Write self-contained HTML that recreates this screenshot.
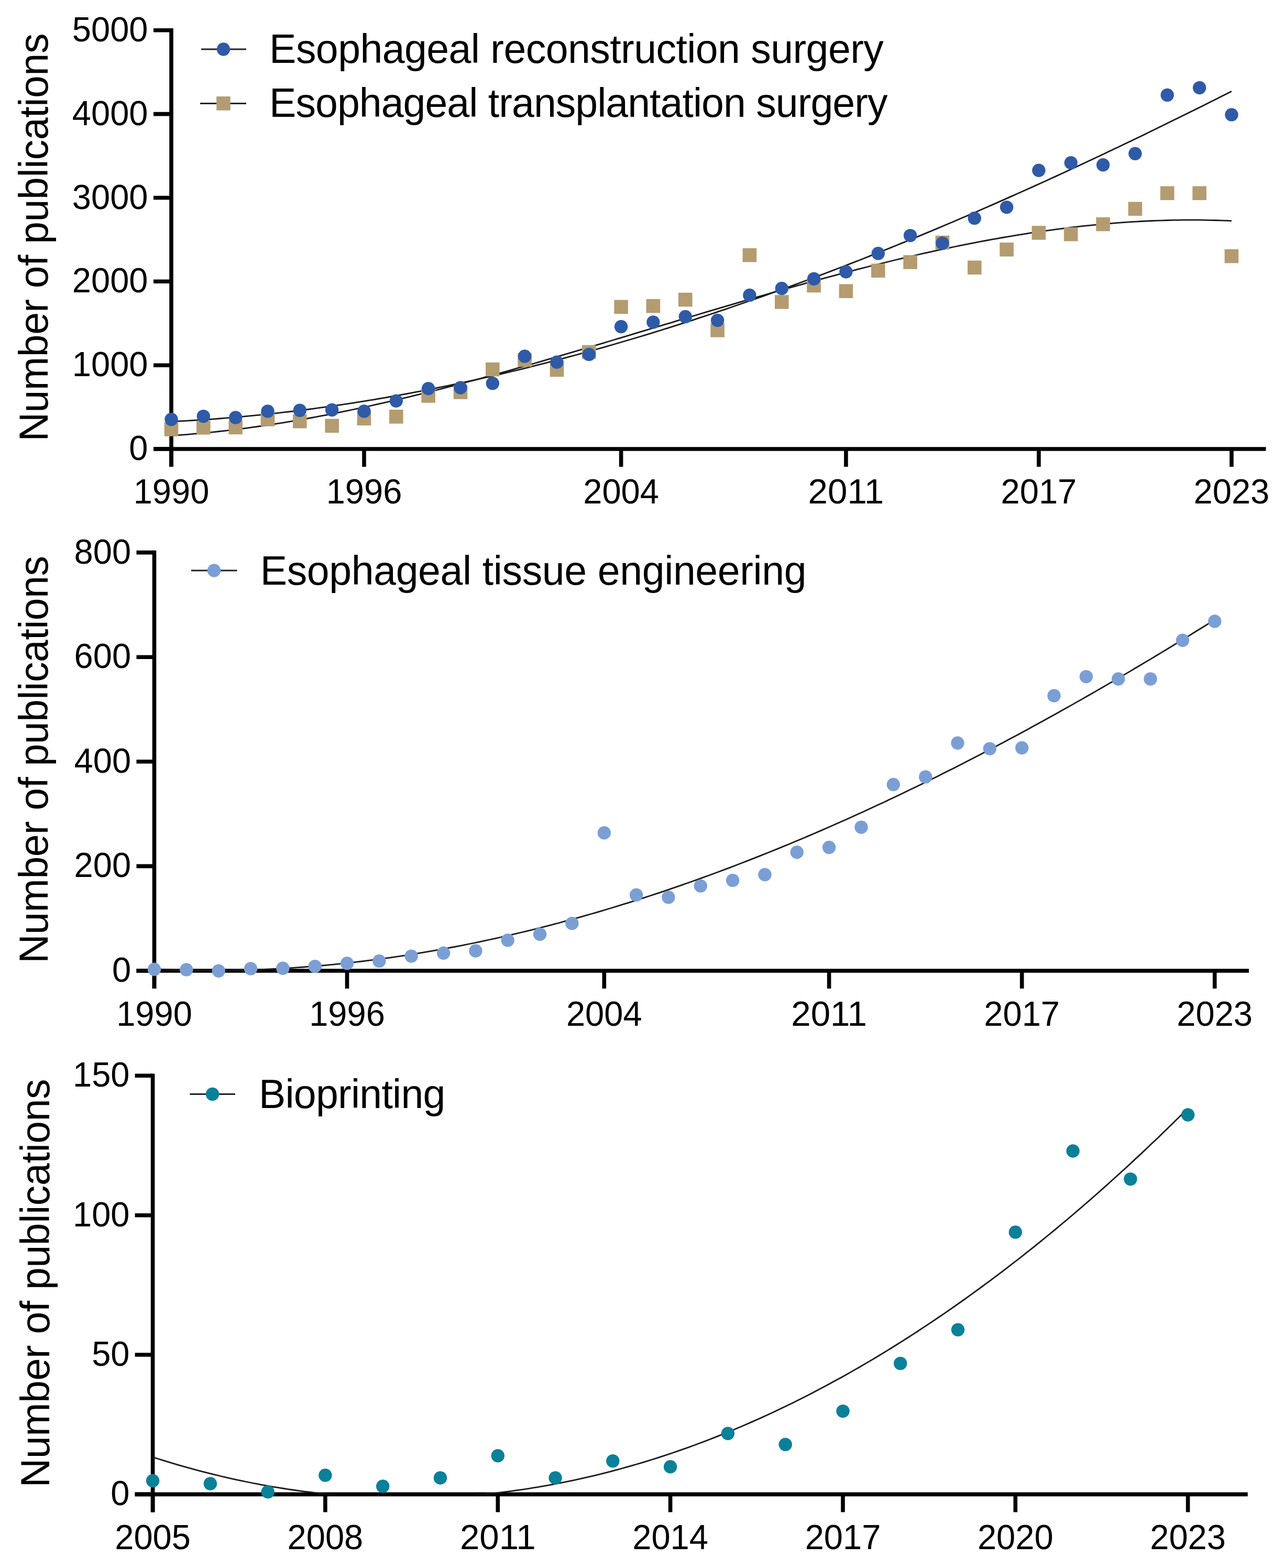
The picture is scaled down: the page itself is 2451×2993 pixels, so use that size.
<!DOCTYPE html>
<html><head><meta charset="utf-8"><title>Publication trends</title>
<style>
html,body{margin:0;padding:0;background:#fff;}
body{width:2451px;height:2993px;overflow:hidden;}
svg{display:block;}
.t{font-family:'Liberation Sans', Arial, Helvetica, sans-serif;font-size:67.4px;fill:#000;}
.ti{font-family:'Liberation Sans', Arial, Helvetica, sans-serif;font-size:77px;fill:#000;}
</style></head>
<body>
<svg width="2451" height="2993" viewBox="0 0 2451 2993">
<defs>
<clipPath id="cl1"><rect x="0" y="0" width="2451" height="857.0"/></clipPath>
<clipPath id="cl2"><rect x="0" y="0" width="2451" height="1853.0"/></clipPath>
<clipPath id="cl3"><rect x="0" y="0" width="2451" height="2852.4"/></clipPath>
</defs>
<rect width="2451" height="2993" fill="#fff"/>
<line x1="327" y1="54.0" x2="327" y2="891.0" stroke="#000" stroke-width="7.6"/>
<line x1="293.0" y1="857.0" x2="2416.5" y2="857.0" stroke="#000" stroke-width="7.6"/>
<line x1="293.0" y1="857.0" x2="327" y2="857.0" stroke="#000" stroke-width="7.6"/>
<text x="282.5" y="878.0" text-anchor="end" class="t" textLength="36.2" lengthAdjust="spacingAndGlyphs">0</text>
<line x1="293.0" y1="697.2" x2="327" y2="697.2" stroke="#000" stroke-width="7.6"/>
<text x="282.5" y="718.2" text-anchor="end" class="t" textLength="144.7" lengthAdjust="spacingAndGlyphs">1000</text>
<line x1="293.0" y1="537.3" x2="327" y2="537.3" stroke="#000" stroke-width="7.6"/>
<text x="282.5" y="558.3" text-anchor="end" class="t" textLength="144.7" lengthAdjust="spacingAndGlyphs">2000</text>
<line x1="293.0" y1="377.5" x2="327" y2="377.5" stroke="#000" stroke-width="7.6"/>
<text x="282.5" y="398.5" text-anchor="end" class="t" textLength="144.7" lengthAdjust="spacingAndGlyphs">3000</text>
<line x1="293.0" y1="217.6" x2="327" y2="217.6" stroke="#000" stroke-width="7.6"/>
<text x="282.5" y="238.6" text-anchor="end" class="t" textLength="144.7" lengthAdjust="spacingAndGlyphs">4000</text>
<line x1="293.0" y1="57.8" x2="327" y2="57.8" stroke="#000" stroke-width="7.6"/>
<text x="282.5" y="78.8" text-anchor="end" class="t" textLength="144.7" lengthAdjust="spacingAndGlyphs">5000</text>
<line x1="327.0" y1="857.0" x2="327.0" y2="891.0" stroke="#000" stroke-width="7.6"/>
<text x="327.0" y="960.5" text-anchor="middle" class="t" textLength="144.7" lengthAdjust="spacingAndGlyphs">1990</text>
<line x1="695.0" y1="857.0" x2="695.0" y2="891.0" stroke="#000" stroke-width="7.6"/>
<text x="695.0" y="960.5" text-anchor="middle" class="t" textLength="144.7" lengthAdjust="spacingAndGlyphs">1996</text>
<line x1="1185.6" y1="857.0" x2="1185.6" y2="891.0" stroke="#000" stroke-width="7.6"/>
<text x="1185.6" y="960.5" text-anchor="middle" class="t" textLength="144.7" lengthAdjust="spacingAndGlyphs">2004</text>
<line x1="1614.9" y1="857.0" x2="1614.9" y2="891.0" stroke="#000" stroke-width="7.6"/>
<text x="1614.9" y="960.5" text-anchor="middle" class="t" textLength="144.7" lengthAdjust="spacingAndGlyphs">2011</text>
<line x1="1982.9" y1="857.0" x2="1982.9" y2="891.0" stroke="#000" stroke-width="7.6"/>
<text x="1982.9" y="960.5" text-anchor="middle" class="t" textLength="144.7" lengthAdjust="spacingAndGlyphs">2017</text>
<line x1="2350.9" y1="857.0" x2="2350.9" y2="891.0" stroke="#000" stroke-width="7.6"/>
<text x="2350.9" y="960.5" text-anchor="middle" class="t" textLength="144.7" lengthAdjust="spacingAndGlyphs">2023</text>
<text transform="translate(91.0,842.6) rotate(-90)" class="ti" textLength="779.0" lengthAdjust="spacing">Number of publications</text>
<path d="M327.0,831.5 L337.2,830.8 L347.3,830.1 L357.5,829.3 L367.7,828.4 L377.9,827.5 L388.0,826.6 L398.2,825.6 L408.4,824.6 L418.5,823.5 L428.7,822.3 L438.9,821.1 L449.0,819.9 L459.2,818.6 L469.4,817.3 L479.6,815.9 L489.7,814.5 L499.9,813.0 L510.1,811.5 L520.2,810.0 L530.4,808.4 L540.6,806.8 L550.7,805.1 L560.9,803.4 L571.1,801.6 L581.3,799.8 L591.4,798.0 L601.6,796.1 L611.8,794.2 L621.9,792.3 L632.1,790.3 L642.3,788.3 L652.4,786.2 L662.6,784.1 L672.8,782.0 L683.0,779.9 L693.1,777.7 L703.3,775.5 L713.5,773.2 L723.6,770.9 L733.8,768.6 L744.0,766.3 L754.2,763.9 L764.3,761.5 L774.5,759.1 L784.7,756.6 L794.8,754.1 L805.0,751.6 L815.2,749.1 L825.3,746.5 L835.5,744.0 L845.7,741.4 L855.9,738.7 L866.0,736.1 L876.2,733.4 L886.4,730.7 L896.5,728.0 L906.7,725.3 L916.9,722.5 L927.0,719.7 L937.2,716.9 L947.4,714.1 L957.6,711.3 L967.7,708.5 L977.9,705.6 L988.1,702.7 L998.2,699.8 L1008.4,696.9 L1018.6,694.0 L1028.8,691.1 L1038.9,688.1 L1049.1,685.2 L1059.3,682.2 L1069.4,679.2 L1079.6,676.2 L1089.8,673.2 L1099.9,670.2 L1110.1,667.2 L1120.3,664.2 L1130.5,661.2 L1140.6,658.1 L1150.8,655.1 L1161.0,652.0 L1171.1,649.0 L1181.3,645.9 L1191.5,642.9 L1201.6,639.8 L1211.8,636.7 L1222.0,633.7 L1232.2,630.6 L1242.3,627.5 L1252.5,624.5 L1262.7,621.4 L1272.8,618.3 L1283.0,615.3 L1293.2,612.2 L1303.3,609.1 L1313.5,606.1 L1323.7,603.0 L1333.9,600.0 L1344.0,596.9 L1354.2,593.9 L1364.4,590.9 L1374.5,587.8 L1384.7,584.8 L1394.9,581.8 L1405.1,578.8 L1415.2,575.8 L1425.4,572.9 L1435.6,569.9 L1445.7,566.9 L1455.9,564.0 L1466.1,561.1 L1476.2,558.1 L1486.4,555.2 L1496.6,552.4 L1506.8,549.5 L1516.9,546.6 L1527.1,543.8 L1537.3,540.9 L1547.4,538.1 L1557.6,535.3 L1567.8,532.6 L1577.9,529.8 L1588.1,527.1 L1598.3,524.4 L1608.5,521.7 L1618.6,519.0 L1628.8,516.4 L1639.0,513.7 L1649.1,511.1 L1659.3,508.5 L1669.5,506.0 L1679.7,503.5 L1689.8,501.0 L1700.0,498.5 L1710.2,496.0 L1720.3,493.6 L1730.5,491.2 L1740.7,488.8 L1750.8,486.5 L1761.0,484.2 L1771.2,481.9 L1781.4,479.7 L1791.5,477.4 L1801.7,475.3 L1811.9,473.1 L1822.0,471.0 L1832.2,468.9 L1842.4,466.9 L1852.5,464.8 L1862.7,462.9 L1872.9,460.9 L1883.1,459.0 L1893.2,457.2 L1903.4,455.3 L1913.6,453.5 L1923.7,451.8 L1933.9,450.1 L1944.1,448.4 L1954.2,446.8 L1964.4,445.2 L1974.6,443.6 L1984.8,442.1 L1994.9,440.7 L2005.1,439.3 L2015.3,437.9 L2025.4,436.6 L2035.6,435.3 L2045.8,434.0 L2056.0,432.9 L2066.1,431.7 L2076.3,430.6 L2086.5,429.6 L2096.6,428.6 L2106.8,427.7 L2117.0,426.8 L2127.1,425.9 L2137.3,425.1 L2147.5,424.4 L2157.7,423.7 L2167.8,423.1 L2178.0,422.5 L2188.2,422.0 L2198.3,421.5 L2208.5,421.1 L2218.7,420.8 L2228.8,420.5 L2239.0,420.2 L2249.2,420.1 L2259.4,419.9 L2269.5,419.9 L2279.7,419.9 L2289.9,419.9 L2300.0,420.1 L2310.2,420.3 L2320.4,420.5 L2330.5,420.8 L2340.7,421.2 L2350.9,421.6" fill="none" stroke="#1a1a1a" stroke-width="2.8" clip-path="url(#cl1)"/>
<path d="M327.0,804.7 L337.2,804.2 L347.3,803.7 L357.5,803.1 L367.7,802.5 L377.9,801.9 L388.0,801.2 L398.2,800.5 L408.4,799.8 L418.5,799.0 L428.7,798.2 L438.9,797.4 L449.0,796.5 L459.2,795.6 L469.4,794.7 L479.6,793.7 L489.7,792.7 L499.9,791.7 L510.1,790.6 L520.2,789.5 L530.4,788.4 L540.6,787.2 L550.7,786.0 L560.9,784.8 L571.1,783.6 L581.3,782.3 L591.4,781.0 L601.6,779.6 L611.8,778.2 L621.9,776.8 L632.1,775.4 L642.3,773.9 L652.4,772.4 L662.6,770.9 L672.8,769.3 L683.0,767.7 L693.1,766.1 L703.3,764.4 L713.5,762.8 L723.6,761.0 L733.8,759.3 L744.0,757.5 L754.2,755.7 L764.3,753.9 L774.5,752.0 L784.7,750.1 L794.8,748.2 L805.0,746.3 L815.2,744.3 L825.3,742.3 L835.5,740.2 L845.7,738.2 L855.9,736.1 L866.0,733.9 L876.2,731.8 L886.4,729.6 L896.5,727.4 L906.7,725.2 L916.9,722.9 L927.0,720.6 L937.2,718.3 L947.4,715.9 L957.6,713.6 L967.7,711.2 L977.9,708.7 L988.1,706.3 L998.2,703.8 L1008.4,701.3 L1018.6,698.7 L1028.8,696.2 L1038.9,693.6 L1049.1,690.9 L1059.3,688.3 L1069.4,685.6 L1079.6,682.9 L1089.8,680.2 L1099.9,677.5 L1110.1,674.7 L1120.3,671.9 L1130.5,669.0 L1140.6,666.2 L1150.8,663.3 L1161.0,660.4 L1171.1,657.5 L1181.3,654.5 L1191.5,651.5 L1201.6,648.5 L1211.8,645.5 L1222.0,642.5 L1232.2,639.4 L1242.3,636.3 L1252.5,633.1 L1262.7,630.0 L1272.8,626.8 L1283.0,623.6 L1293.2,620.4 L1303.3,617.1 L1313.5,613.9 L1323.7,610.6 L1333.9,607.2 L1344.0,603.9 L1354.2,600.5 L1364.4,597.1 L1374.5,593.7 L1384.7,590.3 L1394.9,586.8 L1405.1,583.3 L1415.2,579.8 L1425.4,576.3 L1435.6,572.8 L1445.7,569.2 L1455.9,565.6 L1466.1,562.0 L1476.2,558.3 L1486.4,554.7 L1496.6,551.0 L1506.8,547.3 L1516.9,543.6 L1527.1,539.8 L1537.3,536.0 L1547.4,532.2 L1557.6,528.4 L1567.8,524.6 L1577.9,520.7 L1588.1,516.9 L1598.3,513.0 L1608.5,509.0 L1618.6,505.1 L1628.8,501.1 L1639.0,497.2 L1649.1,493.2 L1659.3,489.1 L1669.5,485.1 L1679.7,481.0 L1689.8,477.0 L1700.0,472.9 L1710.2,468.8 L1720.3,464.6 L1730.5,460.5 L1740.7,456.3 L1750.8,452.1 L1761.0,447.9 L1771.2,443.6 L1781.4,439.4 L1791.5,435.1 L1801.7,430.8 L1811.9,426.5 L1822.0,422.2 L1832.2,417.8 L1842.4,413.5 L1852.5,409.1 L1862.7,404.7 L1872.9,400.3 L1883.1,395.8 L1893.2,391.4 L1903.4,386.9 L1913.6,382.4 L1923.7,377.9 L1933.9,373.4 L1944.1,368.8 L1954.2,364.3 L1964.4,359.7 L1974.6,355.1 L1984.8,350.5 L1994.9,345.9 L2005.1,341.2 L2015.3,336.6 L2025.4,331.9 L2035.6,327.2 L2045.8,322.5 L2056.0,317.8 L2066.1,313.0 L2076.3,308.3 L2086.5,303.5 L2096.6,298.7 L2106.8,293.9 L2117.0,289.1 L2127.1,284.3 L2137.3,279.4 L2147.5,274.5 L2157.7,269.7 L2167.8,264.8 L2178.0,259.9 L2188.2,254.9 L2198.3,250.0 L2208.5,245.1 L2218.7,240.1 L2228.8,235.1 L2239.0,230.1 L2249.2,225.1 L2259.4,220.1 L2269.5,215.1 L2279.7,210.0 L2289.9,204.9 L2300.0,199.9 L2310.2,194.8 L2320.4,189.7 L2330.5,184.6 L2340.7,179.4 L2350.9,174.3" fill="none" stroke="#1a1a1a" stroke-width="2.8" clip-path="url(#cl1)"/>
<rect x="313.7" y="806.2" width="26.6" height="26.6" fill="#B49C71"/>
<rect x="375.0" y="803.0" width="26.6" height="26.6" fill="#B49C71"/>
<rect x="436.4" y="802.5" width="26.6" height="26.6" fill="#B49C71"/>
<rect x="497.7" y="787.2" width="26.6" height="26.6" fill="#B49C71"/>
<rect x="559.0" y="790.9" width="26.6" height="26.6" fill="#B49C71"/>
<rect x="620.4" y="799.5" width="26.6" height="26.6" fill="#B49C71"/>
<rect x="681.7" y="785.5" width="26.6" height="26.6" fill="#B49C71"/>
<rect x="743.0" y="782.0" width="26.6" height="26.6" fill="#B49C71"/>
<rect x="804.3" y="742.2" width="26.6" height="26.6" fill="#B49C71"/>
<rect x="865.7" y="735.3" width="26.6" height="26.6" fill="#B49C71"/>
<rect x="927.0" y="691.8" width="26.6" height="26.6" fill="#B49C71"/>
<rect x="988.3" y="673.7" width="26.6" height="26.6" fill="#B49C71"/>
<rect x="1049.7" y="692.7" width="26.6" height="26.6" fill="#B49C71"/>
<rect x="1111.0" y="658.7" width="26.6" height="26.6" fill="#B49C71"/>
<rect x="1172.3" y="572.5" width="26.6" height="26.6" fill="#B49C71"/>
<rect x="1233.6" y="570.8" width="26.6" height="26.6" fill="#B49C71"/>
<rect x="1295.0" y="558.7" width="26.6" height="26.6" fill="#B49C71"/>
<rect x="1356.3" y="617.1" width="26.6" height="26.6" fill="#B49C71"/>
<rect x="1417.6" y="473.7" width="26.6" height="26.6" fill="#B49C71"/>
<rect x="1479.0" y="563.1" width="26.6" height="26.6" fill="#B49C71"/>
<rect x="1540.3" y="531.7" width="26.6" height="26.6" fill="#B49C71"/>
<rect x="1601.6" y="542.4" width="26.6" height="26.6" fill="#B49C71"/>
<rect x="1663.0" y="503.3" width="26.6" height="26.6" fill="#B49C71"/>
<rect x="1724.3" y="487.1" width="26.6" height="26.6" fill="#B49C71"/>
<rect x="1785.6" y="449.7" width="26.6" height="26.6" fill="#B49C71"/>
<rect x="1847.0" y="497.4" width="26.6" height="26.6" fill="#B49C71"/>
<rect x="1908.3" y="463.0" width="26.6" height="26.6" fill="#B49C71"/>
<rect x="1969.6" y="431.1" width="26.6" height="26.6" fill="#B49C71"/>
<rect x="2030.9" y="433.8" width="26.6" height="26.6" fill="#B49C71"/>
<rect x="2092.3" y="414.7" width="26.6" height="26.6" fill="#B49C71"/>
<rect x="2153.6" y="385.3" width="26.6" height="26.6" fill="#B49C71"/>
<rect x="2214.9" y="355.4" width="26.6" height="26.6" fill="#B49C71"/>
<rect x="2276.3" y="355.4" width="26.6" height="26.6" fill="#B49C71"/>
<rect x="2337.6" y="475.7" width="26.6" height="26.6" fill="#B49C71"/>
<circle cx="327.0" cy="800.5" r="12.7" fill="#2E5AA8"/>
<circle cx="388.3" cy="794.6" r="12.7" fill="#2E5AA8"/>
<circle cx="449.7" cy="797.0" r="12.7" fill="#2E5AA8"/>
<circle cx="511.0" cy="784.9" r="12.7" fill="#2E5AA8"/>
<circle cx="572.3" cy="783.2" r="12.7" fill="#2E5AA8"/>
<circle cx="633.6" cy="782.5" r="12.7" fill="#2E5AA8"/>
<circle cx="695.0" cy="784.9" r="12.7" fill="#2E5AA8"/>
<circle cx="756.3" cy="765.2" r="12.7" fill="#2E5AA8"/>
<circle cx="817.6" cy="741.7" r="12.7" fill="#2E5AA8"/>
<circle cx="879.0" cy="740.0" r="12.7" fill="#2E5AA8"/>
<circle cx="940.3" cy="731.7" r="12.7" fill="#2E5AA8"/>
<circle cx="1001.6" cy="679.9" r="12.7" fill="#2E5AA8"/>
<circle cx="1063.0" cy="691.3" r="12.7" fill="#2E5AA8"/>
<circle cx="1124.3" cy="676.4" r="12.7" fill="#2E5AA8"/>
<circle cx="1185.6" cy="623.5" r="12.7" fill="#2E5AA8"/>
<circle cx="1246.9" cy="614.9" r="12.7" fill="#2E5AA8"/>
<circle cx="1308.3" cy="604.5" r="12.7" fill="#2E5AA8"/>
<circle cx="1369.6" cy="611.4" r="12.7" fill="#2E5AA8"/>
<circle cx="1430.9" cy="563.4" r="12.7" fill="#2E5AA8"/>
<circle cx="1492.3" cy="550.5" r="12.7" fill="#2E5AA8"/>
<circle cx="1553.6" cy="532.2" r="12.7" fill="#2E5AA8"/>
<circle cx="1614.9" cy="518.7" r="12.7" fill="#2E5AA8"/>
<circle cx="1676.3" cy="483.8" r="12.7" fill="#2E5AA8"/>
<circle cx="1737.6" cy="449.6" r="12.7" fill="#2E5AA8"/>
<circle cx="1798.9" cy="464.1" r="12.7" fill="#2E5AA8"/>
<circle cx="1860.2" cy="416.4" r="12.7" fill="#2E5AA8"/>
<circle cx="1921.6" cy="395.6" r="12.7" fill="#2E5AA8"/>
<circle cx="1982.9" cy="325.2" r="12.7" fill="#2E5AA8"/>
<circle cx="2044.2" cy="310.8" r="12.7" fill="#2E5AA8"/>
<circle cx="2105.6" cy="314.7" r="12.7" fill="#2E5AA8"/>
<circle cx="2166.9" cy="293.2" r="12.7" fill="#2E5AA8"/>
<circle cx="2228.2" cy="181.4" r="12.7" fill="#2E5AA8"/>
<circle cx="2289.6" cy="167.5" r="12.7" fill="#2E5AA8"/>
<circle cx="2350.9" cy="218.9" r="12.7" fill="#2E5AA8"/>
<line x1="384" y1="94" x2="470" y2="94" stroke="#222" stroke-width="3"/>
<circle cx="426.5" cy="94.0" r="12.7" fill="#2E5AA8"/>
<line x1="382" y1="197.4" x2="470" y2="197.4" stroke="#222" stroke-width="3"/>
<rect x="413.2" y="184.1" width="26.6" height="26.6" fill="#B49C71"/>
<text x="514.1" y="119.5" class="ti" textLength="1172.7" lengthAdjust="spacing">Esophageal reconstruction surgery</text>
<text x="514.1" y="223" class="ti" textLength="1180.3" lengthAdjust="spacing">Esophageal transplantation surgery</text>
<line x1="294.5" y1="1050.8" x2="294.5" y2="1887.0" stroke="#000" stroke-width="7.6"/>
<line x1="260.5" y1="1853.0" x2="2384" y2="1853.0" stroke="#000" stroke-width="7.6"/>
<line x1="260.5" y1="1853.0" x2="294.5" y2="1853.0" stroke="#000" stroke-width="7.6"/>
<text x="250.1" y="1874.0" text-anchor="end" class="t" textLength="36.2" lengthAdjust="spacingAndGlyphs">0</text>
<line x1="260.5" y1="1653.4" x2="294.5" y2="1653.4" stroke="#000" stroke-width="7.6"/>
<text x="250.1" y="1674.4" text-anchor="end" class="t" textLength="108.5" lengthAdjust="spacingAndGlyphs">200</text>
<line x1="260.5" y1="1453.8" x2="294.5" y2="1453.8" stroke="#000" stroke-width="7.6"/>
<text x="250.1" y="1474.8" text-anchor="end" class="t" textLength="108.5" lengthAdjust="spacingAndGlyphs">400</text>
<line x1="260.5" y1="1254.2" x2="294.5" y2="1254.2" stroke="#000" stroke-width="7.6"/>
<text x="250.1" y="1275.2" text-anchor="end" class="t" textLength="108.5" lengthAdjust="spacingAndGlyphs">600</text>
<line x1="260.5" y1="1054.6" x2="294.5" y2="1054.6" stroke="#000" stroke-width="7.6"/>
<text x="250.1" y="1075.6" text-anchor="end" class="t" textLength="108.5" lengthAdjust="spacingAndGlyphs">800</text>
<line x1="294.5" y1="1853.0" x2="294.5" y2="1887.0" stroke="#000" stroke-width="7.6"/>
<text x="294.5" y="1957.5" text-anchor="middle" class="t" textLength="144.7" lengthAdjust="spacingAndGlyphs">1990</text>
<line x1="662.5" y1="1853.0" x2="662.5" y2="1887.0" stroke="#000" stroke-width="7.6"/>
<text x="662.5" y="1957.5" text-anchor="middle" class="t" textLength="144.7" lengthAdjust="spacingAndGlyphs">1996</text>
<line x1="1153.3" y1="1853.0" x2="1153.3" y2="1887.0" stroke="#000" stroke-width="7.6"/>
<text x="1153.3" y="1957.5" text-anchor="middle" class="t" textLength="144.7" lengthAdjust="spacingAndGlyphs">2004</text>
<line x1="1582.6" y1="1853.0" x2="1582.6" y2="1887.0" stroke="#000" stroke-width="7.6"/>
<text x="1582.6" y="1957.5" text-anchor="middle" class="t" textLength="144.7" lengthAdjust="spacingAndGlyphs">2011</text>
<line x1="1950.7" y1="1853.0" x2="1950.7" y2="1887.0" stroke="#000" stroke-width="7.6"/>
<text x="1950.7" y="1957.5" text-anchor="middle" class="t" textLength="144.7" lengthAdjust="spacingAndGlyphs">2017</text>
<line x1="2318.7" y1="1853.0" x2="2318.7" y2="1887.0" stroke="#000" stroke-width="7.6"/>
<text x="2318.7" y="1957.5" text-anchor="middle" class="t" textLength="144.7" lengthAdjust="spacingAndGlyphs">2023</text>
<text transform="translate(91.0,1838.8) rotate(-90)" class="ti" textLength="777.9" lengthAdjust="spacing">Number of publications</text>
<path d="M294.5,1849.6 L304.7,1850.1 L314.8,1850.5 L325.0,1850.9 L335.2,1851.3 L345.4,1851.6 L355.5,1851.9 L365.7,1852.1 L375.9,1852.2 L386.0,1852.3 L396.2,1852.4 L406.4,1852.4 L416.6,1852.4 L426.7,1852.4 L436.9,1852.3 L447.1,1852.1 L457.3,1851.9 L467.4,1851.6 L477.6,1851.4 L487.8,1851.0 L497.9,1850.6 L508.1,1850.2 L518.3,1849.7 L528.5,1849.2 L538.6,1848.7 L548.8,1848.1 L559.0,1847.4 L569.1,1846.7 L579.3,1846.0 L589.5,1845.2 L599.7,1844.4 L609.8,1843.5 L620.0,1842.6 L630.2,1841.6 L640.3,1840.6 L650.5,1839.6 L660.7,1838.5 L670.9,1837.4 L681.0,1836.2 L691.2,1835.0 L701.4,1833.7 L711.6,1832.4 L721.7,1831.1 L731.9,1829.7 L742.1,1828.3 L752.2,1826.8 L762.4,1825.3 L772.6,1823.8 L782.8,1822.2 L792.9,1820.6 L803.1,1818.9 L813.3,1817.2 L823.4,1815.4 L833.6,1813.6 L843.8,1811.8 L854.0,1809.9 L864.1,1808.0 L874.3,1806.1 L884.5,1804.1 L894.6,1802.0 L904.8,1800.0 L915.0,1797.8 L925.2,1795.7 L935.3,1793.5 L945.5,1791.3 L955.7,1789.0 L965.8,1786.7 L976.0,1784.3 L986.2,1781.9 L996.4,1779.5 L1006.5,1777.1 L1016.7,1774.6 L1026.9,1772.0 L1037.1,1769.4 L1047.2,1766.8 L1057.4,1764.2 L1067.6,1761.5 L1077.7,1758.7 L1087.9,1756.0 L1098.1,1753.2 L1108.3,1750.3 L1118.4,1747.4 L1128.6,1744.5 L1138.8,1741.6 L1148.9,1738.6 L1159.1,1735.5 L1169.3,1732.5 L1179.5,1729.4 L1189.6,1726.2 L1199.8,1723.1 L1210.0,1719.9 L1220.1,1716.6 L1230.3,1713.3 L1240.5,1710.0 L1250.7,1706.7 L1260.8,1703.3 L1271.0,1699.9 L1281.2,1696.4 L1291.4,1692.9 L1301.5,1689.4 L1311.7,1685.8 L1321.9,1682.2 L1332.0,1678.6 L1342.2,1674.9 L1352.4,1671.2 L1362.6,1667.5 L1372.7,1663.7 L1382.9,1659.9 L1393.1,1656.1 L1403.2,1652.2 L1413.4,1648.3 L1423.6,1644.4 L1433.8,1640.4 L1443.9,1636.4 L1454.1,1632.4 L1464.3,1628.3 L1474.4,1624.2 L1484.6,1620.1 L1494.8,1615.9 L1505.0,1611.7 L1515.1,1607.5 L1525.3,1603.2 L1535.5,1599.0 L1545.7,1594.6 L1555.8,1590.3 L1566.0,1585.9 L1576.2,1581.5 L1586.3,1577.0 L1596.5,1572.5 L1606.7,1568.0 L1616.9,1563.5 L1627.0,1558.9 L1637.2,1554.3 L1647.4,1549.7 L1657.5,1545.0 L1667.7,1540.3 L1677.9,1535.6 L1688.1,1530.9 L1698.2,1526.1 L1708.4,1521.3 L1718.6,1516.4 L1728.7,1511.5 L1738.9,1506.6 L1749.1,1501.7 L1759.3,1496.7 L1769.4,1491.8 L1779.6,1486.7 L1789.8,1481.7 L1800.0,1476.6 L1810.1,1471.5 L1820.3,1466.4 L1830.5,1461.2 L1840.6,1456.0 L1850.8,1450.8 L1861.0,1445.6 L1871.2,1440.3 L1881.3,1435.0 L1891.5,1429.7 L1901.7,1424.3 L1911.8,1419.0 L1922.0,1413.6 L1932.2,1408.1 L1942.4,1402.7 L1952.5,1397.2 L1962.7,1391.7 L1972.9,1386.1 L1983.0,1380.6 L1993.2,1375.0 L2003.4,1369.3 L2013.6,1363.7 L2023.7,1358.0 L2033.9,1352.3 L2044.1,1346.6 L2054.2,1340.9 L2064.4,1335.1 L2074.6,1329.3 L2084.8,1323.5 L2094.9,1317.6 L2105.1,1311.8 L2115.3,1305.9 L2125.5,1300.0 L2135.6,1294.0 L2145.8,1288.1 L2156.0,1282.1 L2166.1,1276.0 L2176.3,1270.0 L2186.5,1263.9 L2196.7,1257.9 L2206.8,1251.7 L2217.0,1245.6 L2227.2,1239.5 L2237.3,1233.3 L2247.5,1227.1 L2257.7,1220.9 L2267.9,1214.6 L2278.0,1208.3 L2288.2,1202.0 L2298.4,1195.7 L2308.5,1189.4 L2318.7,1183.0" fill="none" stroke="#1a1a1a" stroke-width="2.8" clip-path="url(#cl2)"/>
<circle cx="294.5" cy="1850.3" r="12.7" fill="#7B9FD5"/>
<circle cx="355.8" cy="1850.9" r="12.7" fill="#7B9FD5"/>
<circle cx="417.2" cy="1853.2" r="12.7" fill="#7B9FD5"/>
<circle cx="478.5" cy="1848.9" r="12.7" fill="#7B9FD5"/>
<circle cx="539.9" cy="1848.3" r="12.7" fill="#7B9FD5"/>
<circle cx="601.2" cy="1844.6" r="12.7" fill="#7B9FD5"/>
<circle cx="662.5" cy="1838.8" r="12.7" fill="#7B9FD5"/>
<circle cx="723.9" cy="1834.4" r="12.7" fill="#7B9FD5"/>
<circle cx="785.2" cy="1825.1" r="12.7" fill="#7B9FD5"/>
<circle cx="846.6" cy="1819.3" r="12.7" fill="#7B9FD5"/>
<circle cx="907.9" cy="1815.0" r="12.7" fill="#7B9FD5"/>
<circle cx="969.2" cy="1794.8" r="12.7" fill="#7B9FD5"/>
<circle cx="1030.6" cy="1783.3" r="12.7" fill="#7B9FD5"/>
<circle cx="1091.9" cy="1762.6" r="12.7" fill="#7B9FD5"/>
<circle cx="1153.3" cy="1589.7" r="12.7" fill="#7B9FD5"/>
<circle cx="1214.6" cy="1708.3" r="12.7" fill="#7B9FD5"/>
<circle cx="1275.9" cy="1712.7" r="12.7" fill="#7B9FD5"/>
<circle cx="1337.3" cy="1691.1" r="12.7" fill="#7B9FD5"/>
<circle cx="1398.6" cy="1680.4" r="12.7" fill="#7B9FD5"/>
<circle cx="1460.0" cy="1669.5" r="12.7" fill="#7B9FD5"/>
<circle cx="1521.3" cy="1626.8" r="12.7" fill="#7B9FD5"/>
<circle cx="1582.6" cy="1617.5" r="12.7" fill="#7B9FD5"/>
<circle cx="1644.0" cy="1579.0" r="12.7" fill="#7B9FD5"/>
<circle cx="1705.3" cy="1497.5" r="12.7" fill="#7B9FD5"/>
<circle cx="1766.7" cy="1482.9" r="12.7" fill="#7B9FD5"/>
<circle cx="1828.0" cy="1418.2" r="12.7" fill="#7B9FD5"/>
<circle cx="1889.3" cy="1429.1" r="12.7" fill="#7B9FD5"/>
<circle cx="1950.7" cy="1427.5" r="12.7" fill="#7B9FD5"/>
<circle cx="2012.0" cy="1328.0" r="12.7" fill="#7B9FD5"/>
<circle cx="2073.4" cy="1291.6" r="12.7" fill="#7B9FD5"/>
<circle cx="2134.7" cy="1296.0" r="12.7" fill="#7B9FD5"/>
<circle cx="2196.0" cy="1296.0" r="12.7" fill="#7B9FD5"/>
<circle cx="2257.4" cy="1222.3" r="12.7" fill="#7B9FD5"/>
<circle cx="2318.7" cy="1186.0" r="12.7" fill="#7B9FD5"/>
<line x1="365" y1="1089" x2="452.6" y2="1089" stroke="#222" stroke-width="3"/>
<circle cx="408.6" cy="1089.0" r="12.7" fill="#7B9FD5"/>
<text x="496.7" y="1116" class="ti" textLength="1042.9" lengthAdjust="spacing">Esophageal tissue engineering</text>
<line x1="291.6" y1="2049.5" x2="291.6" y2="2886.4" stroke="#000" stroke-width="7.6"/>
<line x1="257.6" y1="2852.4" x2="2381.7" y2="2852.4" stroke="#000" stroke-width="7.6"/>
<line x1="257.6" y1="2852.4" x2="291.6" y2="2852.4" stroke="#000" stroke-width="7.6"/>
<text x="247.5" y="2873.4" text-anchor="end" class="t" textLength="36.2" lengthAdjust="spacingAndGlyphs">0</text>
<line x1="257.6" y1="2586.0" x2="291.6" y2="2586.0" stroke="#000" stroke-width="7.6"/>
<text x="247.5" y="2607.0" text-anchor="end" class="t" textLength="72.3" lengthAdjust="spacingAndGlyphs">50</text>
<line x1="257.6" y1="2319.7" x2="291.6" y2="2319.7" stroke="#000" stroke-width="7.6"/>
<text x="247.5" y="2340.7" text-anchor="end" class="t" textLength="108.5" lengthAdjust="spacingAndGlyphs">100</text>
<line x1="257.6" y1="2053.3" x2="291.6" y2="2053.3" stroke="#000" stroke-width="7.6"/>
<text x="247.5" y="2074.3" text-anchor="end" class="t" textLength="108.5" lengthAdjust="spacingAndGlyphs">150</text>
<line x1="291.6" y1="2852.4" x2="291.6" y2="2886.4" stroke="#000" stroke-width="7.6"/>
<text x="291.6" y="2957.0" text-anchor="middle" class="t" textLength="144.7" lengthAdjust="spacingAndGlyphs">2005</text>
<line x1="620.9" y1="2852.4" x2="620.9" y2="2886.4" stroke="#000" stroke-width="7.6"/>
<text x="620.9" y="2957.0" text-anchor="middle" class="t" textLength="144.7" lengthAdjust="spacingAndGlyphs">2008</text>
<line x1="950.3" y1="2852.4" x2="950.3" y2="2886.4" stroke="#000" stroke-width="7.6"/>
<text x="950.3" y="2957.0" text-anchor="middle" class="t" textLength="144.7" lengthAdjust="spacingAndGlyphs">2011</text>
<line x1="1279.6" y1="2852.4" x2="1279.6" y2="2886.4" stroke="#000" stroke-width="7.6"/>
<text x="1279.6" y="2957.0" text-anchor="middle" class="t" textLength="144.7" lengthAdjust="spacingAndGlyphs">2014</text>
<line x1="1609.0" y1="2852.4" x2="1609.0" y2="2886.4" stroke="#000" stroke-width="7.6"/>
<text x="1609.0" y="2957.0" text-anchor="middle" class="t" textLength="144.7" lengthAdjust="spacingAndGlyphs">2017</text>
<line x1="1938.3" y1="2852.4" x2="1938.3" y2="2886.4" stroke="#000" stroke-width="7.6"/>
<text x="1938.3" y="2957.0" text-anchor="middle" class="t" textLength="144.7" lengthAdjust="spacingAndGlyphs">2020</text>
<line x1="2267.6" y1="2852.4" x2="2267.6" y2="2886.4" stroke="#000" stroke-width="7.6"/>
<text x="2267.6" y="2957.0" text-anchor="middle" class="t" textLength="144.7" lengthAdjust="spacingAndGlyphs">2023</text>
<text transform="translate(93.5,2839.3) rotate(-90)" class="ti" textLength="779.9" lengthAdjust="spacing">Number of publications</text>
<path d="M291.6,2781.3 L301.5,2784.5 L311.5,2787.6 L321.4,2790.7 L331.3,2793.7 L341.2,2796.6 L351.2,2799.4 L361.1,2802.2 L371.0,2804.9 L381.0,2807.6 L390.9,2810.2 L400.8,2812.7 L410.8,2815.1 L420.7,2817.5 L430.6,2819.8 L440.5,2822.1 L450.5,2824.3 L460.4,2826.4 L470.3,2828.5 L480.3,2830.5 L490.2,2832.4 L500.1,2834.3 L510.1,2836.0 L520.0,2837.8 L529.9,2839.4 L539.8,2841.0 L549.8,2842.6 L559.7,2844.0 L569.6,2845.4 L579.6,2846.8 L589.5,2848.0 L599.4,2849.2 L609.4,2850.4 L619.3,2851.4 L629.2,2852.4 L639.1,2853.4 L649.1,2854.3 L659.0,2855.1 L668.9,2855.8 L678.9,2856.5 L688.8,2857.1 L698.7,2857.6 L708.7,2858.1 L718.6,2858.5 L728.5,2858.9 L738.4,2859.1 L748.4,2859.4 L758.3,2859.5 L768.2,2859.6 L778.2,2859.6 L788.1,2859.5 L798.0,2859.4 L808.0,2859.2 L817.9,2859.0 L827.8,2858.7 L837.7,2858.3 L847.7,2857.9 L857.6,2857.3 L867.5,2856.8 L877.5,2856.1 L887.4,2855.4 L897.3,2854.6 L907.3,2853.8 L917.2,2852.9 L927.1,2851.9 L937.0,2850.9 L947.0,2849.8 L956.9,2848.6 L966.8,2847.4 L976.8,2846.1 L986.7,2844.7 L996.6,2843.3 L1006.5,2841.8 L1016.5,2840.2 L1026.4,2838.6 L1036.3,2836.9 L1046.3,2835.1 L1056.2,2833.3 L1066.1,2831.4 L1076.1,2829.4 L1086.0,2827.4 L1095.9,2825.3 L1105.8,2823.1 L1115.8,2820.9 L1125.7,2818.6 L1135.6,2816.3 L1145.6,2813.8 L1155.5,2811.4 L1165.4,2808.8 L1175.4,2806.2 L1185.3,2803.5 L1195.2,2800.7 L1205.1,2797.9 L1215.1,2795.0 L1225.0,2792.1 L1234.9,2789.1 L1244.9,2786.0 L1254.8,2782.9 L1264.7,2779.6 L1274.7,2776.4 L1284.6,2773.0 L1294.5,2769.6 L1304.4,2766.1 L1314.4,2762.6 L1324.3,2759.0 L1334.2,2755.3 L1344.2,2751.6 L1354.1,2747.8 L1364.0,2743.9 L1374.0,2739.9 L1383.9,2735.9 L1393.8,2731.9 L1403.7,2727.7 L1413.7,2723.5 L1423.6,2719.3 L1433.5,2714.9 L1443.5,2710.5 L1453.4,2706.1 L1463.3,2701.5 L1473.3,2696.9 L1483.2,2692.3 L1493.1,2687.5 L1503.0,2682.7 L1513.0,2677.9 L1522.9,2673.0 L1532.8,2668.0 L1542.8,2662.9 L1552.7,2657.8 L1562.6,2652.6 L1572.6,2647.3 L1582.5,2642.0 L1592.4,2636.6 L1602.3,2631.2 L1612.3,2625.7 L1622.2,2620.1 L1632.1,2614.4 L1642.1,2608.7 L1652.0,2602.9 L1661.9,2597.1 L1671.8,2591.2 L1681.8,2585.2 L1691.7,2579.1 L1701.6,2573.0 L1711.6,2566.8 L1721.5,2560.6 L1731.4,2554.3 L1741.4,2547.9 L1751.3,2541.5 L1761.2,2534.9 L1771.1,2528.4 L1781.1,2521.7 L1791.0,2515.0 L1800.9,2508.3 L1810.9,2501.4 L1820.8,2494.5 L1830.7,2487.5 L1840.7,2480.5 L1850.6,2473.4 L1860.5,2466.2 L1870.4,2459.0 L1880.4,2451.7 L1890.3,2444.3 L1900.2,2436.9 L1910.2,2429.4 L1920.1,2421.9 L1930.0,2414.2 L1940.0,2406.5 L1949.9,2398.8 L1959.8,2390.9 L1969.7,2383.1 L1979.7,2375.1 L1989.6,2367.1 L1999.5,2359.0 L2009.5,2350.8 L2019.4,2342.6 L2029.3,2334.3 L2039.3,2326.0 L2049.2,2317.5 L2059.1,2309.1 L2069.0,2300.5 L2079.0,2291.9 L2088.9,2283.2 L2098.8,2274.5 L2108.8,2265.6 L2118.7,2256.8 L2128.6,2247.8 L2138.6,2238.8 L2148.5,2229.7 L2158.4,2220.6 L2168.3,2211.4 L2178.3,2202.1 L2188.2,2192.8 L2198.1,2183.3 L2208.1,2173.9 L2218.0,2164.3 L2227.9,2154.7 L2237.9,2145.1 L2247.8,2135.3 L2257.7,2125.5 L2267.6,2115.7" fill="none" stroke="#1a1a1a" stroke-width="2.8" clip-path="url(#cl3)"/>
<circle cx="291.6" cy="2826.5" r="12.7" fill="#0A8099"/>
<circle cx="401.4" cy="2832.0" r="12.7" fill="#0A8099"/>
<circle cx="511.2" cy="2847.7" r="12.7" fill="#0A8099"/>
<circle cx="620.9" cy="2815.9" r="12.7" fill="#0A8099"/>
<circle cx="730.7" cy="2837.0" r="12.7" fill="#0A8099"/>
<circle cx="840.5" cy="2821.0" r="12.7" fill="#0A8099"/>
<circle cx="950.3" cy="2778.8" r="12.7" fill="#0A8099"/>
<circle cx="1060.1" cy="2821.0" r="12.7" fill="#0A8099"/>
<circle cx="1169.8" cy="2788.8" r="12.7" fill="#0A8099"/>
<circle cx="1279.6" cy="2799.7" r="12.7" fill="#0A8099"/>
<circle cx="1389.4" cy="2736.2" r="12.7" fill="#0A8099"/>
<circle cx="1499.2" cy="2757.3" r="12.7" fill="#0A8099"/>
<circle cx="1609.0" cy="2693.6" r="12.7" fill="#0A8099"/>
<circle cx="1718.7" cy="2602.4" r="12.7" fill="#0A8099"/>
<circle cx="1828.5" cy="2538.3" r="12.7" fill="#0A8099"/>
<circle cx="1938.3" cy="2351.9" r="12.7" fill="#0A8099"/>
<circle cx="2048.1" cy="2197.0" r="12.7" fill="#0A8099"/>
<circle cx="2157.9" cy="2250.6" r="12.7" fill="#0A8099"/>
<circle cx="2267.6" cy="2128.0" r="12.7" fill="#0A8099"/>
<line x1="362.4" y1="2088.5" x2="449" y2="2088.5" stroke="#222" stroke-width="3"/>
<circle cx="405.5" cy="2088.5" r="12.7" fill="#0A8099"/>
<text x="493.9" y="2114.6" class="ti" textLength="356.4" lengthAdjust="spacing">Bioprinting</text>
</svg>
</body></html>
